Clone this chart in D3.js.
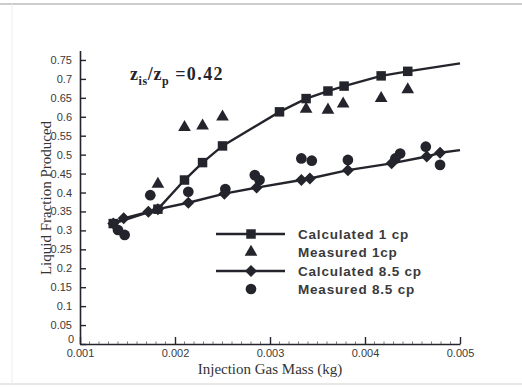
<!DOCTYPE html>
<html>
<head>
<meta charset="utf-8">
<script src="https://cdn.jsdelivr.net/npm/d3@7"></script>
<style>
  body { margin: 0; background: #fff; }
  svg { display: block; }
</style>
</head>
<body>
<svg width="522" height="387"></svg>
<script>
// Calculated 1 cp (squares + line)
var calc1X = [0.00135, 0.00182, 0.0021, 0.00229, 0.0025, 0.0031, 0.00338, 0.00361, 0.00378, 0.00417, 0.00445];
var calc1Y = [0.318, 0.356, 0.433, 0.479, 0.523, 0.613, 0.648, 0.668, 0.681, 0.708, 0.720];
var calc1End = [0.005, 0.741];

// Measured 1cp (triangles)
var meas1X = [0.00182, 0.0021, 0.00229, 0.0025, 0.00338, 0.00361, 0.00377, 0.00417, 0.00445];
var meas1Y = [0.422, 0.572, 0.576, 0.600, 0.620, 0.618, 0.634, 0.649, 0.672];

// Calculated 8.5 cp (diamonds + line)
var calc85X = [0.00135, 0.00146, 0.00172, 0.00182, 0.00214, 0.00252, 0.00286, 0.00333, 0.00342, 0.00382, 0.00428, 0.00465, 0.00479];
var calc85Y = [0.318, 0.332, 0.349, 0.356, 0.373, 0.397, 0.413, 0.433, 0.437, 0.459, 0.477, 0.495, 0.505];
var calc85End = [0.005, 0.512];

// Measured 8.5 cp (circles)
var meas85X = [0.0014, 0.00147, 0.00174, 0.00214, 0.00253, 0.00284, 0.00289, 0.00333, 0.00344, 0.00382, 0.00432, 0.00437, 0.00464, 0.00479];
var meas85Y = [0.301, 0.288, 0.393, 0.402, 0.409, 0.446, 0.433, 0.490, 0.484, 0.486, 0.490, 0.503, 0.521, 0.473];

var xTicks = [0.001, 0.002, 0.003, 0.004, 0.005];
var yTicks = [0, 0.05, 0.1, 0.15, 0.2, 0.25, 0.3, 0.35, 0.4, 0.45, 0.5, 0.55, 0.6, 0.65, 0.7, 0.75];
var legendLabels = ["Calculated 1 cp", "Measured 1cp", "Calculated 8.5 cp", "Measured 8.5 cp"];

var ink = "#24242c";
var svg = d3.select("svg");

// faint scan border
svg.append("line").attr("x1", 0).attr("x2", 522).attr("y1", 4).attr("y2", 4)
  .attr("stroke", "#9a9a9a").attr("stroke-width", 1);
svg.append("line").attr("x1", 0).attr("x2", 522).attr("y1", 384).attr("y2", 384)
  .attr("stroke", "#cfcfcf").attr("stroke-width", 1);
svg.append("line").attr("x1", 12).attr("x2", 12).attr("y1", 4).attr("y2", 384)
  .attr("stroke", "#eeeeee").attr("stroke-width", 1);

var x = d3.scaleLinear().domain([0.001, 0.005]).range([80, 460]);
var y = d3.scaleLinear().domain([0, 0.775]).range([344, 50.5]);

// axes, ticks inward
var yAxis = d3.axisLeft(y)
  .tickValues(yTicks)
  .tickSizeInner(-6)
  .tickSizeOuter(0)
  .tickPadding(8)
  .tickFormat(function (d) { return String(+d.toFixed(2)); });
var gy = svg.append("g").attr("transform", "translate(80,0)").call(yAxis);

var xAxis = d3.axisBottom(x)
  .tickValues(xTicks)
  .tickSizeInner(-7)
  .tickSizeOuter(0)
  .tickPadding(5)
  .tickFormat(d3.format(".3f"));
var gx = svg.append("g").attr("transform", "translate(0,344)").call(xAxis);

[gx, gy].forEach(function (g) {
  g.select(".domain").attr("stroke", ink).attr("stroke-width", 1.6);
  g.selectAll(".tick line").attr("stroke", ink).attr("stroke-width", 1.4);
  g.selectAll("text").attr("font-family", "Arial, 'Liberation Sans', sans-serif")
    .attr("font-size", 11).attr("fill", "#3a3a3a");
});
gy.select(".tick text").attr("dy", "-0.1em").attr("x", -6);

// x minor ticks
svg.append("g").selectAll("line")
  .data(d3.range(11, 50).filter(function (i) { return i % 10 !== 0; }))
  .enter().append("line")
  .attr("x1", function (i) { return x(i / 10000); })
  .attr("x2", function (i) { return x(i / 10000); })
  .attr("y1", 344).attr("y2", 341.5)
  .attr("stroke", "#777").attr("stroke-width", 1);

// y axis title
svg.append("text")
  .attr("transform", "translate(46,198) rotate(-90)")
  .attr("text-anchor", "middle")
  .attr("dy", "0.35em")
  .attr("font-family", "'Liberation Serif', 'Times New Roman', serif")
  .attr("font-size", 15)
  .attr("fill", "#333")
  .text("Liquid Fraction Produced");

// x axis title
svg.append("text")
  .attr("x", 270).attr("y", 374)
  .attr("text-anchor", "middle")
  .attr("font-family", "'Liberation Serif', 'Times New Roman', serif")
  .attr("font-size", 15)
  .attr("fill", "#333")
  .text("Injection Gas Mass (kg)");

// annotation z_is/z_p = 0.42
var note = svg.append("text")
  .attr("x", 130).attr("y", 80)
  .attr("font-family", "'Liberation Serif', 'Times New Roman', serif")
  .attr("font-weight", "bold")
  .attr("font-size", 18)
  .attr("letter-spacing", 0.6)
  .attr("fill", ink);
note.append("tspan").text("z");
note.append("tspan").attr("font-size", 12).attr("dy", 5).text("is");
note.append("tspan").attr("dy", -5).text("/z");
note.append("tspan").attr("font-size", 12).attr("dy", 5).text("p");
note.append("tspan").attr("dy", -5).attr("letter-spacing", 1.4).text(" =0.42");

// series lines
var line = d3.line()
  .x(function (d) { return x(d[0]); })
  .y(function (d) { return y(d[1]); });

var calc1 = d3.zip(calc1X, calc1Y);
var meas1 = d3.zip(meas1X, meas1Y);
var calc85 = d3.zip(calc85X, calc85Y);
var meas85 = d3.zip(meas85X, meas85Y);

var plot = svg.append("g");
plot.append("path").datum(calc85.concat([calc85End]))
  .attr("d", line).attr("fill", "none").attr("stroke", ink).attr("stroke-width", 2.4);
plot.append("path").datum(calc1.concat([calc1End]))
  .attr("d", line).attr("fill", "none").attr("stroke", ink).attr("stroke-width", 2.4);

// markers
var symSquare = d3.symbol().type(d3.symbolSquare).size(90);
var symTri = d3.symbol().type(d3.symbolTriangle).size(70);
var symCircle = d3.symbol().type(d3.symbolCircle).size(90);
var symDiamond = d3.symbol().type(d3.symbolSquare).size(72);

function drawMarks(data, sym, rot) {
  plot.append("g").selectAll("path")
    .data(data)
    .enter()
    .append("path")
    .attr("d", sym)
    .attr("fill", ink)
    .attr("transform", function (d) {
      return "translate(" + x(d[0]) + "," + y(d[1]) + ")" + (rot ? " rotate(45)" : "");
    });
}
drawMarks(meas85, symCircle, false);
drawMarks(meas1, symTri, false);
drawMarks(calc1, symSquare, false);
drawMarks(calc85, symDiamond, true);

// legend
var legend = svg.append("g");
var rowY = [234, 252, 271, 289];
var legSym = [symSquare, symTri, symDiamond, symCircle];
var legLine = [true, false, true, false];
legendLabels.forEach(function (label, i) {
  if (legLine[i]) {
    legend.append("line")
      .attr("x1", 216).attr("x2", 285)
      .attr("y1", rowY[i]).attr("y2", rowY[i])
      .attr("stroke", ink).attr("stroke-width", 2.4);
  }
  legend.append("path")
    .attr("d", legSym[i])
    .attr("fill", ink)
    .attr("transform", "translate(251," + rowY[i] + ")" + (i === 2 ? " rotate(45)" : ""));
  legend.append("text")
    .attr("x", 298).attr("y", rowY[i])
    .attr("dy", "0.36em")
    .attr("font-family", "Arial, 'Liberation Sans', sans-serif")
    .attr("font-weight", "bold")
    .attr("font-size", 13.5)
    .attr("letter-spacing", 0.8)
    .attr("fill", "#3a3a3a")
    .text(label);
});
</script>
</body>
</html>
